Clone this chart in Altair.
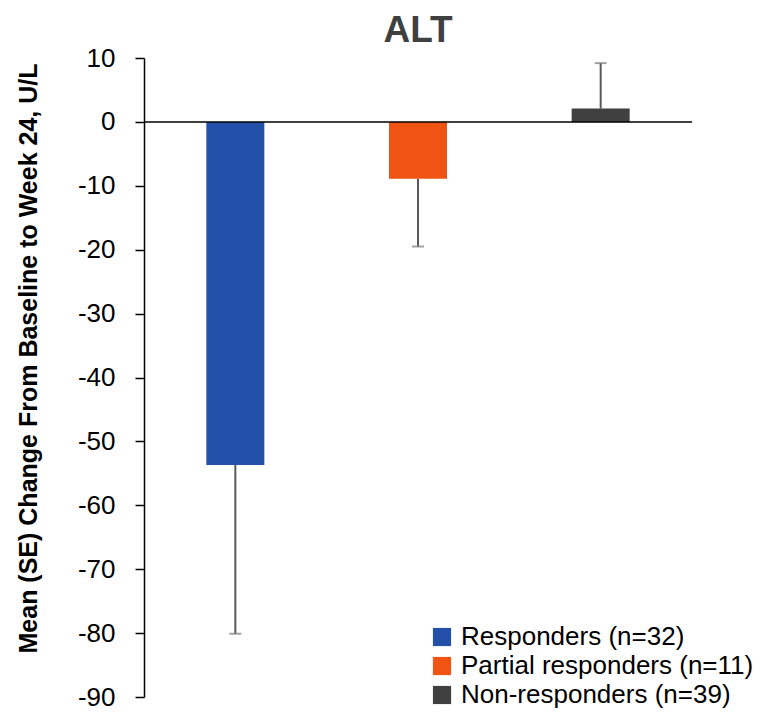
import altair as alt
import pandas as pd

categories = ["Responders (n=32)", "Partial responders (n=11)", "Non-responders (n=39)"]
means = [-53.7, -8.9, 2.1]
err_ends = [-80.1, -19.5, 9.2]
colors = ["#2350A9", "#F15412", "#404040"]
y_ticks = [10, 0, -10, -20, -30, -40, -50, -60, -70, -80, -90]

df = pd.DataFrame({"group": categories, "mean": means, "err": err_ends})

x_enc = alt.X("group:N", sort=categories, axis=None,
              scale=alt.Scale(paddingInner=0, paddingOuter=0))
y_scale = alt.Scale(domain=[-90, 10], nice=False, zero=False)
y_axis = alt.Axis(
    title="Mean (SE) Change From Baseline to Week 24, U/L",
    titleFont="Liberation Sans", titleFontSize=25, titleFontWeight="bold",
    titleColor="#000000", titlePadding=36, titleY=300,
    values=y_ticks, labelExpr="replace(datum.label, '\u2212', '-')",
    labelFont="Liberation Sans", labelFontSize=26,
    labelColor="#000000", labelPadding=20, tickSize=9, tickColor="#000000",
    tickWidth=1.5, domainColor="#000000", domainWidth=1.5, grid=False,
)

base = alt.Chart(df)

bars = base.mark_bar(size=58).encode(
    x=x_enc,
    y=alt.Y("mean:Q", scale=y_scale, axis=y_axis),
    y2=alt.datum(0),
    color=alt.Color(
        "group:N", sort=categories,
        scale=alt.Scale(domain=categories, range=colors),
        legend=alt.Legend(
            title=None, orient="none", legendX=285, legendY=566,
            symbolType="square", symbolSize=330, symbolStrokeWidth=0,
            labelFont="Liberation Sans", labelFontSize=26, labelColor="#000000",
            labelLimit=400, rowPadding=3, labelOffset=6, padding=0,
        ),
    ),
)

err_rule = base.mark_rule(color="#595959", strokeWidth=2).encode(
    x=x_enc, y=alt.Y("mean:Q"), y2="err:Q"
)
err_cap = base.mark_tick(color="#7a7a7a", size=12, thickness=2).encode(
    x=x_enc, y=alt.Y("err:Q")
)
zero_line = alt.Chart(pd.DataFrame({"z": [0]})).mark_rule(
    color="#000000", strokeWidth=1.5
).encode(y=alt.Y("z:Q"))

chart = alt.layer(err_rule, err_cap, bars, zero_line).properties(
    width=548, height=639,
    padding={"top": 4, "left": 8, "right": 5, "bottom": 5},
    title=alt.TitleParams("ALT", font="Liberation Sans", fontSize=37,
                          fontWeight="bold", color="#404040", offset=-5),
).configure_view(stroke=None)

chart.save("out.html", embed_options={"renderer": "svg", "actions": False})
